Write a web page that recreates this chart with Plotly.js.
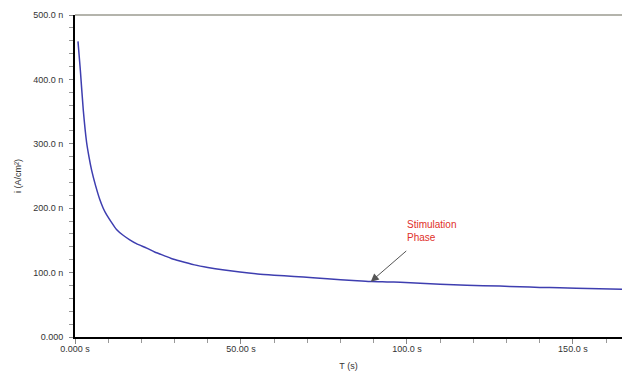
<!DOCTYPE html>
<html>
<head>
<meta charset="utf-8">
<script src="https://cdn.plot.ly/plotly-3.0.1.min.js"></script>
<style>html,body{margin:0;padding:0;background:#fff;}#chart{width:623px;height:373px;}</style>
</head>
<body>
<div id="chart"></div>
<script>
// time in seconds
var timeS = [0.9, 1.6, 2.5, 3.5, 4.2, 5.0, 6.2, 7.5, 8.5, 9.5, 11, 12.5, 14.5, 16.5, 18.5, 21.6, 24, 27, 29, 31.6, 36, 40, 45, 49.7, 55, 60, 66, 71.7, 76, 80, 85, 89.4, 94, 98, 104, 110, 118, 128, 134, 140, 146, 151, 158, 164.8];
// current density in nA/cm^2
var currentN = [459, 415, 352, 302, 280, 259, 235, 213, 200, 190, 178, 167, 158, 151, 145, 138, 132, 126, 122, 118, 112, 108, 104, 101, 98, 96, 94, 92, 90.5, 89, 87.5, 86, 85.5, 85, 83.5, 82, 80.5, 79, 78, 77, 76.5, 75.6, 75, 74];
var yTickVals = [0, 100, 200, 300, 400, 500];
var yTickText = ['0.000', '100.0 n', '200.0 n', '300.0 n', '400.0 n', '500.0 n'];
var xTickVals = [0, 50, 100, 150];
var xTickText = ['0.000 s', '50.00 s', '100.0 s', '150.0 s'];
var arrowTip = {t: 89.1, v: 85.9};
var noteText = 'Stimulation<br>Phase';

var font = 'Liberation Sans Narrow, Liberation Sans, Arial, sans-serif';

var trace = {
  x: timeS, y: currentN, type: 'scatter', mode: 'lines',
  line: {color: '#3e3eb0', width: 1.5, shape: 'spline', smoothing: 0.6},
  hoverinfo: 'skip', showlegend: false
};

var layout = {
  width: 623, height: 373,
  margin: {l: 75, r: 1, t: 15, b: 36},
  paper_bgcolor: '#ffffff', plot_bgcolor: '#ffffff',
  font: {family: font, size: 9, color: '#333'},
  showlegend: false,
  xaxis: {
    range: [0, 164.8], showgrid: false, zeroline: false,
    showline: true, linecolor: '#000', linewidth: 2,
    ticks: 'outside', ticklen: 5, tickcolor: '#888', tickwidth: 1,
    tickvals: xTickVals, ticktext: xTickText, ticklabelstandoff: -3,
    minor: {dtick: 10, tick0: 0, ticks: 'outside', ticklen: 4, tickcolor: '#999', tickwidth: 1},
    tickfont: {family: font, size: 9, color: '#333'},
    title: {text: 'T (s)', font: {family: font, size: 9, color: '#333'}, standoff: 10}
  },
  yaxis: {
    range: [0, 500], showgrid: false, zeroline: false,
    showline: true, linecolor: '#000', linewidth: 2,
    ticks: 'outside', ticklen: 4, tickcolor: '#888', tickwidth: 1,
    tickvals: yTickVals, ticktext: yTickText, ticklabelstandoff: 4,
    minor: {dtick: 20, tick0: 0, ticks: 'outside', ticklen: 4, tickcolor: '#999', tickwidth: 1},
    tickfont: {family: font, size: 9, color: '#333'},
    title: {text: 'i (A/cm²)', font: {family: font, size: 9, color: '#333'}, standoff: 10}
  },
  shapes: [
    {type: 'line', xref: 'paper', yref: 'paper', x0: 0, x1: 1, y0: 1, y1: 1,
     line: {color: '#b4b4ac', width: 2}}
  ],
  annotations: [
    {x: arrowTip.t, y: arrowTip.v, xref: 'x', yref: 'y', text: '', showarrow: true,
     ax: 37, ay: -32, arrowhead: 2, arrowsize: 1.6, arrowwidth: 1, arrowcolor: '#555'},
    {x: 99.5, y: 187, xref: 'x', yref: 'y', text: noteText, showarrow: false,
     xanchor: 'left', yanchor: 'top', align: 'left',
     font: {family: font, size: 10, color: '#e0302a'}}
  ]
};

Plotly.newPlot('chart', [trace], layout, {staticPlot: true, displayModeBar: false});
</script>
</body>
</html>
